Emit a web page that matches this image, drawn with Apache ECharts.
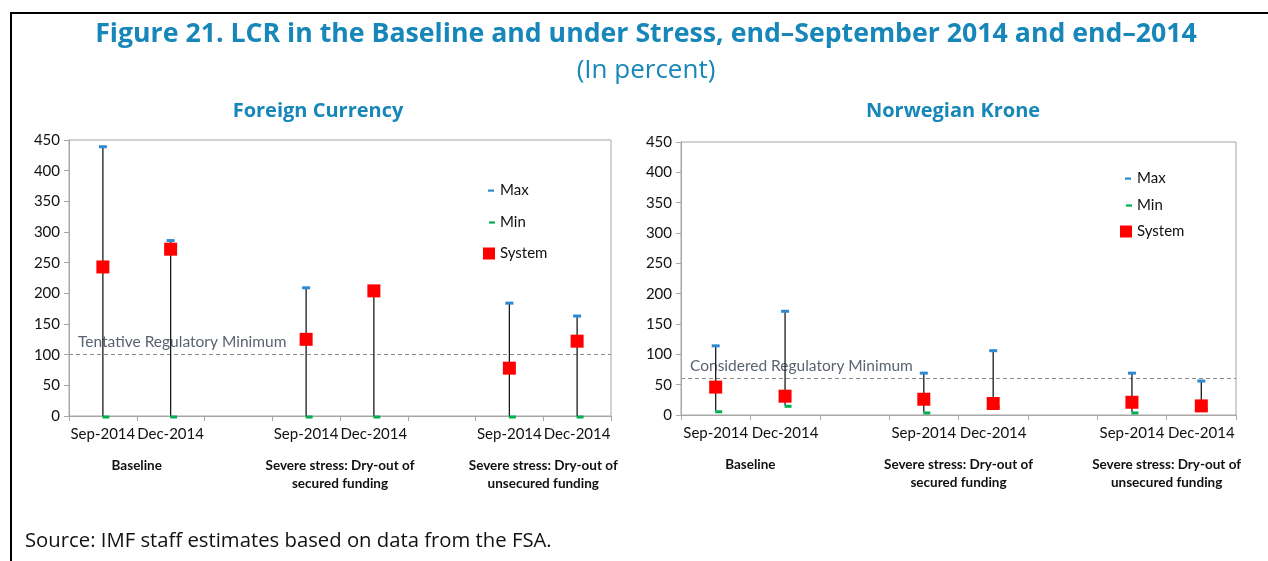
<!DOCTYPE html>
<html>
<head>
<meta charset="utf-8">
<script src="https://cdn.jsdelivr.net/npm/echarts@6/dist/echarts.min.js"></script>
<style>
html,body{margin:0;padding:0;background:#fff;}
#chart{width:1268px;height:561px;}
</style>
</head>
<body>
<div id="chart"></div>
<script>
// ---- data ----
const categories = ['Sep-2014', 'Dec-2014', '', 'Sep-2014', 'Dec-2014', '', 'Sep-2014', 'Dec-2014'];
const groupLabels = ['', 'Baseline', '', '', 'Severe stress: Dry-out of\nsecured funding', '', '', 'Severe stress: Dry-out of\nunsecured funding', ''];
const yTicks = [0, 50, 100, 150, 200, 250, 300, 350, 400, 450];

const fxMax    = [439, 286, null, 209, 204, null, 184, 163];
const fxMin    = [0,   0,   null, 0,   0,   null, 0,   0];
const fxSystem = [243, 272, null, 125, 204, null, 78,  122];
const fxRegMin = 100;

const nokMax    = [114, 171, null, 69, 106, null, 69, 56];
const nokMin    = [7,   16,  null, 5,  15,  null, 5,  12];
const nokSystem = [46,  31,  null, 26, 19,  null, 21, 15];
const nokRegMin = 60;

// ---- helpers ----
const FONT = 'Lato';
const TFONT = 'Open Sans';
const pts = arr => arr.map((v, i) => v == null ? null : [i, v]).filter(d => d);
const ranges = (lo, hi) => lo.map((v, i) => v == null ? null : [i, v, hi[i]]).filter(d => d);

const BLUE = '#2e8ad0', GREEN = '#00b050', RED = '#ff0000';
const maxIcon = 'path://M0,0 M12,12 M5,5 L11,5 L11,7.2 L5,7.2 Z';
const minIcon = 'path://M0,0 M12,12 M6,5.4 L12,5.4 L12,7.6 L6,7.6 Z';

function xAxes(grid) {
  return [{
    type: 'category', gridIndex: grid, data: categories, boundaryGap: true,
    axisLine: {show: true, lineStyle: {color: '#a6a6a6', width: 1}},
    axisTick: {show: true, length: 5, lineStyle: {color: '#a6a6a6'}},
    axisLabel: {interval: 0, color: '#111', fontFamily: FONT, fontSize: 15, margin: 11}
  }, {
    type: 'category', gridIndex: grid, data: groupLabels, boundaryGap: false, position: 'bottom', offset: 35,
    axisLine: {show: false}, axisTick: {show: false},
    axisLabel: {interval: 0, color: '#111', fontFamily: FONT, fontSize: 13.5, fontWeight: 'bold', lineHeight: 18, margin: 6}
  }];
}
function yAxis(grid) {
  return {
    type: 'value', gridIndex: grid, min: 0, max: yTicks[yTicks.length - 1], interval: yTicks[1] - yTicks[0],
    splitLine: {show: false},
    axisLine: {show: true, lineStyle: {color: '#a6a6a6'}},
    axisTick: {show: true, length: 5, lineStyle: {color: '#a6a6a6'}},
    axisLabel: {color: '#111', fontFamily: FONT, fontSize: 15, margin: 9}
  };
}
function seriesFor(grid, lo, hi, sys, regMin, regLabel) {
  const xi = grid * 2, yi = grid;
  return [{
    type: 'custom', name: 'range', xAxisIndex: xi, yAxisIndex: yi, z: 1, silent: true,
    data: ranges(lo, hi),
    renderItem: (params, api) => {
      const a = api.coord([api.value(0), api.value(1)]);
      const b = api.coord([api.value(0), api.value(2)]);
      return {type: 'line', shape: {x1: a[0], y1: a[1], x2: b[0], y2: b[1]}, style: {stroke: '#1a1a1a', lineWidth: 1.3}};
    }
  }, {
    type: 'scatter', name: 'Min', xAxisIndex: xi, yAxisIndex: yi, z: 2, clip: false,
    symbol: 'rect', symbolSize: [7, 3], symbolOffset: [3, 1], itemStyle: {color: GREEN, opacity: 1},
    data: pts(lo)
  }, {
    type: 'scatter', name: 'Max', xAxisIndex: xi, yAxisIndex: yi, z: 3, clip: false,
    symbol: 'rect', symbolSize: [8, 3], itemStyle: {color: BLUE, opacity: 1},
    data: pts(hi)
  }, {
    type: 'scatter', name: 'System', xAxisIndex: xi, yAxisIndex: yi, z: 4, clip: false,
    symbol: 'rect', symbolSize: 13, itemStyle: {color: RED, opacity: 1},
    data: pts(sys),
    markLine: {
      silent: true, symbol: 'none', z: 0,
      lineStyle: {type: [4, 3], color: '#8c8c8c', width: 1.2},
      label: {show: true, position: 'insideStartTop', formatter: regLabel, color: '#5a6470', fontFamily: FONT, fontSize: 15.5, distance: [9, 5]},
      data: [{yAxis: regMin}]
    }
  }];
}
function legend(left, top, gap) {
  return {
    orient: 'vertical', left: left, top: top, itemWidth: 12, itemHeight: 12, itemGap: gap, padding: 0,
    selectedMode: false,
    textStyle: {color: '#111', fontFamily: FONT, fontSize: 15},
    data: [
      {name: 'Max', icon: maxIcon, itemStyle: {color: BLUE, opacity: 1}},
      {name: 'Min', icon: minIcon, itemStyle: {color: GREEN, opacity: 1}},
      {name: 'System', icon: 'rect', itemStyle: {color: RED, opacity: 1}}
    ]
  };
}

const chart = echarts.init(document.getElementById('chart'), null, {renderer: 'canvas'});
chart.setOption({
  animation: false,
  backgroundColor: '#fff',
  title: [
    {text: 'Figure 21. LCR in the Baseline and under Stress, end\u2013September 2014 and end\u20132014', left: 646, top: 21, textAlign: 'center', padding: 0,
      textStyle: {color: '#1786b8', fontFamily: TFONT, fontSize: 26.7, fontWeight: 'bold'}},
    {text: '(In percent)', left: 646, top: 58, textAlign: 'center', padding: 0,
      textStyle: {color: '#1786b8', fontFamily: TFONT, fontSize: 26, fontWeight: 'normal'}},
    {text: 'Foreign Currency', left: 318, top: 101, textAlign: 'center', padding: 0,
      textStyle: {color: '#1786b8', fontFamily: TFONT, fontSize: 20, fontWeight: 'bold'}},
    {text: 'Norwegian Krone', left: 953, top: 101, textAlign: 'center', padding: 0,
      textStyle: {color: '#1786b8', fontFamily: TFONT, fontSize: 20, fontWeight: 'bold'}},
    {text: 'Source: IMF staff estimates based on data from the FSA.', left: 25, top: 531, padding: 0,
      textStyle: {color: '#111', fontFamily: TFONT, fontSize: 20.3, fontWeight: 'normal'}}
  ],
  grid: [
    {left: 69, right: 1268 - 611, top: 140, bottom: 561 - 416, show: true, borderColor: '#a6a6a6', borderWidth: 1},
    {left: 681, right: 1268 - 1236, top: 142, bottom: 561 - 415, show: true, borderColor: '#a6a6a6', borderWidth: 1}
  ],
  xAxis: [...xAxes(0), ...xAxes(1)],
  yAxis: [yAxis(0), yAxis(1)],
  legend: [legend(483, 183, 16.5), legend(1120, 171, 11.5)],
  series: [
    ...seriesFor(0, fxMin, fxMax, fxSystem, fxRegMin, 'Tentative Regulatory Minimum'),
    ...seriesFor(1, nokMin, nokMax, nokSystem, nokRegMin, 'Considered Regulatory Minimum')
  ],
  graphic: [
    {type: 'line', shape: {x1: 10, y1: 13, x2: 1268, y2: 13}, style: {stroke: '#000', lineWidth: 2}, silent: true},
    {type: 'line', shape: {x1: 11, y1: 12, x2: 11, y2: 561}, style: {stroke: '#000', lineWidth: 2}, silent: true}
  ]
});
</script>
</body>
</html>
